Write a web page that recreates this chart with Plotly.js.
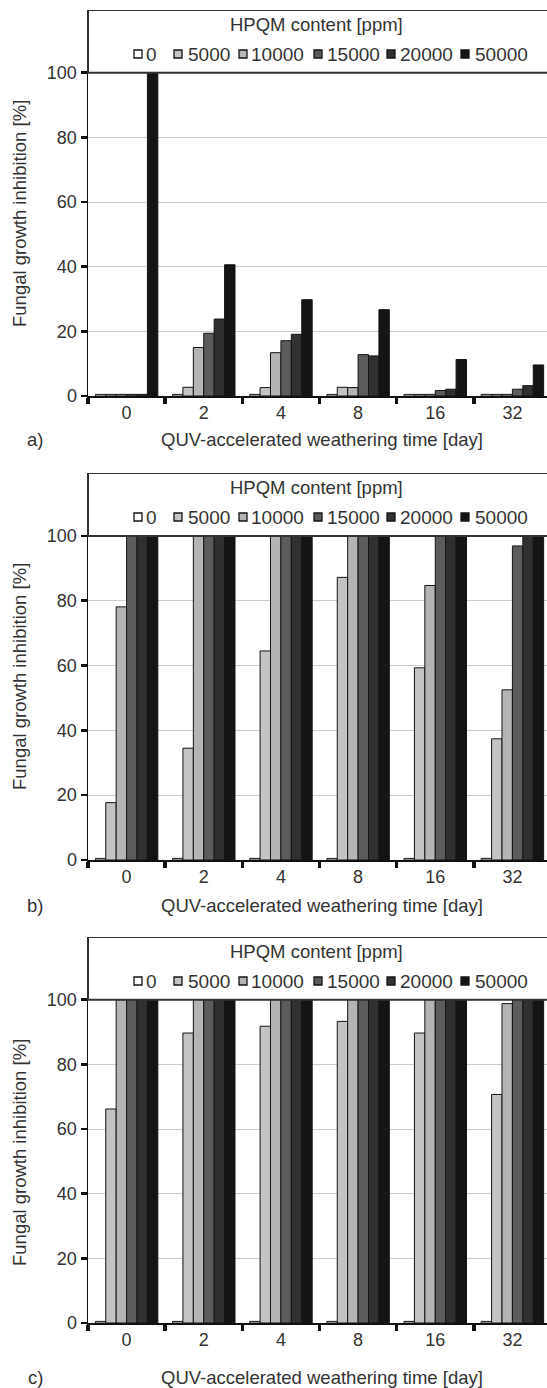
<!DOCTYPE html>
<html><head><meta charset="utf-8">
<script src="https://cdn.plot.ly/plotly-3.0.1.min.js"></script>
<style>
html,body{margin:0;padding:0;overflow:hidden;background:#fff;width:547px;height:1388px;}
.panel{position:absolute;left:0;width:551px;}
</style></head><body>
<div id="pa" class="panel" style="top:0;height:463px"></div>
<div id="pb" class="panel" style="top:463px;height:464px"></div>
<div id="pc" class="panel" style="top:927px;height:461px"></div>
<script>
// ---- data ----
const days = ['0', '2', '4', '8', '16', '32'];
const seriesNames = ['0', '5000', '10000', '15000', '20000', '50000'];
const seriesColors = ['#ffffff', '#c3c3c3', '#b4b4b4', '#5c5c5c', '#303030', '#141414'];

// panel a)
const a_0     = [0.5, 0.5, 0.5, 0.5, 0.5, 0.5];
const a_5000  = [0.5, 2.7, 2.6, 2.7, 0.5, 0.5];
const a_10000 = [0.5, 15.0, 13.4, 2.6, 0.5, 0.5];
const a_15000 = [0.5, 19.4, 17.1, 12.8, 1.7, 2.1];
const a_20000 = [0.5, 23.8, 19.1, 12.4, 2.1, 3.2];
const a_50000 = [100, 40.6, 29.8, 26.7, 11.3, 9.6];

// panel b)
const b_0     = [0.5, 0.5, 0.5, 0.5, 0.5, 0.5];
const b_5000  = [17.7, 34.5, 64.5, 87.2, 59.3, 37.4];
const b_10000 = [78.1, 100, 100, 100, 84.7, 52.5];
const b_15000 = [100, 100, 100, 100, 100, 96.9];
const b_20000 = [100, 100, 100, 100, 100, 100];
const b_50000 = [100, 100, 100, 100, 100, 100];

// panel c)
const c_0     = [0.5, 0.5, 0.5, 0.5, 0.5, 0.5];
const c_5000  = [66.2, 89.7, 91.8, 93.3, 89.7, 70.7];
const c_10000 = [100, 100, 100, 100, 100, 98.8];
const c_15000 = [100, 100, 100, 100, 100, 100];
const c_20000 = [100, 100, 100, 100, 100, 100];
const c_50000 = [100, 100, 100, 100, 100, 100];

const yTicks = [0, 20, 40, 60, 80, 100];
const xTitle = 'QUV-accelerated weathering time [day]';
const yTitle = 'Fungal growth inhibition [%]';
const legendTitle = 'HPQM content [ppm]';

// ---- layout constants ----
const FONT = '"Liberation Sans", Arial, Helvetica, sans-serif';
const TXT = '#333333';
const PLOT_LEFT = 88;
const legendSymX = [134, 174, 239, 314, 387, 461];   // page px (left edge of symbol)
const legendTxtX = [145, 187, 250, 326, 399, 474];   // page px (left edge of text)

const panels = [
  {id: 'pa', label: 'a)', h: 463, b: 67, series: [a_0, a_5000, a_10000, a_15000, a_20000, a_50000], xt: -43, yt: -204},
  {id: 'pb', label: 'b)', h: 464, b: 67, series: [b_0, b_5000, b_10000, b_15000, b_20000, b_50000], xt: -45, yt: -204},
  {id: 'pc', label: 'c)', h: 461, b: 65, series: [c_0, c_5000, c_10000, c_15000, c_20000, c_50000], xt: -54, yt: -216}
];

panels.forEach(p => {
  const traces = p.series.map((vals, i) => ({
    type: 'bar',
    x: days,
    y: vals,
    name: seriesNames[i],
    marker: {color: seriesColors[i], line: {color: '#151515', width: 1}},
    showlegend: false,
    hoverinfo: 'skip'
  }));

  const shapes = [{
    type: 'rect', xref: 'paper', yref: 'y', x0: 0, x1: 1, y0: 100, y1: 119.4,
    line: {color: '#333333', width: 2}, fillcolor: 'rgba(0,0,0,0)', layer: 'above'
  }];
  const annotations = [];

  // legend (custom, Excel-style)
  seriesNames.forEach((nm, i) => {
    shapes.push({
      type: 'rect', xref: 'paper', yref: 'paper',
      xsizemode: 'pixel', ysizemode: 'pixel', xanchor: 0, yanchor: 1,
      x0: legendSymX[i] - PLOT_LEFT, x1: legendSymX[i] - PLOT_LEFT + 8,
      y0: -44 - 4, y1: -44 + 4,
      fillcolor: seriesColors[i], line: {color: '#151515', width: 1.3}
    });
    annotations.push({
      xref: 'paper', yref: 'paper', x: 0, y: 1,
      xshift: legendTxtX[i] - PLOT_LEFT, yshift: -44,
      xanchor: 'left', yanchor: 'middle', showarrow: false,
      text: nm, font: {family: FONT, size: 19, color: TXT}, borderpad: 0
    });
  });
  annotations.push({
    xref: 'paper', yref: 'paper', x: 0, y: 1, xshift: 316 - PLOT_LEFT, yshift: -14,
    xanchor: 'center', yanchor: 'middle', showarrow: false,
    text: legendTitle, font: {family: FONT, size: 18.5, color: TXT}
  });
  // axis titles & panel label
  annotations.push({
    xref: 'paper', yref: 'paper', x: 0.5, y: 0, xshift: 2, yshift: p.xt,
    xanchor: 'center', yanchor: 'middle', showarrow: false,
    text: xTitle, font: {family: FONT, size: 18.5, color: TXT}
  });
  annotations.push({
    xref: 'paper', yref: 'paper', x: 0, y: 0, xshift: 35 - PLOT_LEFT, yshift: p.xt,
    xanchor: 'center', yanchor: 'middle', showarrow: false,
    text: p.label, font: {family: FONT, size: 18.5, color: TXT}
  });
  annotations.push({
    xref: 'paper', yref: 'paper', x: 0, y: 1, xshift: 19 - PLOT_LEFT, yshift: p.yt,
    xanchor: 'center', yanchor: 'middle', showarrow: false, textangle: -90,
    text: yTitle, font: {family: FONT, size: 18.5, color: TXT}
  });

  const layout = {
    width: 551, height: p.h,
    margin: {l: PLOT_LEFT, r: 0, t: 10, b: p.b, pad: 0},
    paper_bgcolor: '#ffffff', plot_bgcolor: '#ffffff',
    font: {family: FONT, size: 18, color: TXT},
    barmode: 'group', bargap: 0.19, bargroupgap: 0,
    showlegend: false,
    xaxis: {
      type: 'category', range: [-0.5, 5.5], tickson: 'boundaries',
      ticks: 'outside', ticklen: 6, tickwidth: 3.5, tickcolor: '#111111',
      showline: true, linecolor: '#111111', linewidth: 1.5,
      showgrid: false, zeroline: false,
      tickfont: {family: FONT, size: 18, color: TXT}
    },
    yaxis: {
      range: [0, 119.4], tickvals: yTicks, ticktext: yTicks.map(String),
      ticks: 'outside', ticklen: 6, tickwidth: 2.5, tickcolor: '#111111',
      showline: true, linecolor: '#111111', linewidth: 1.5,
      showgrid: true, gridcolor: '#cccccc', gridwidth: 1, zeroline: false,
      tickfont: {family: FONT, size: 18, color: TXT}
    },
    shapes: shapes,
    annotations: annotations
  };
  Plotly.newPlot(p.id, traces, layout, {staticPlot: true, displayModeBar: false, responsive: false});
});
</script>
</body></html>
